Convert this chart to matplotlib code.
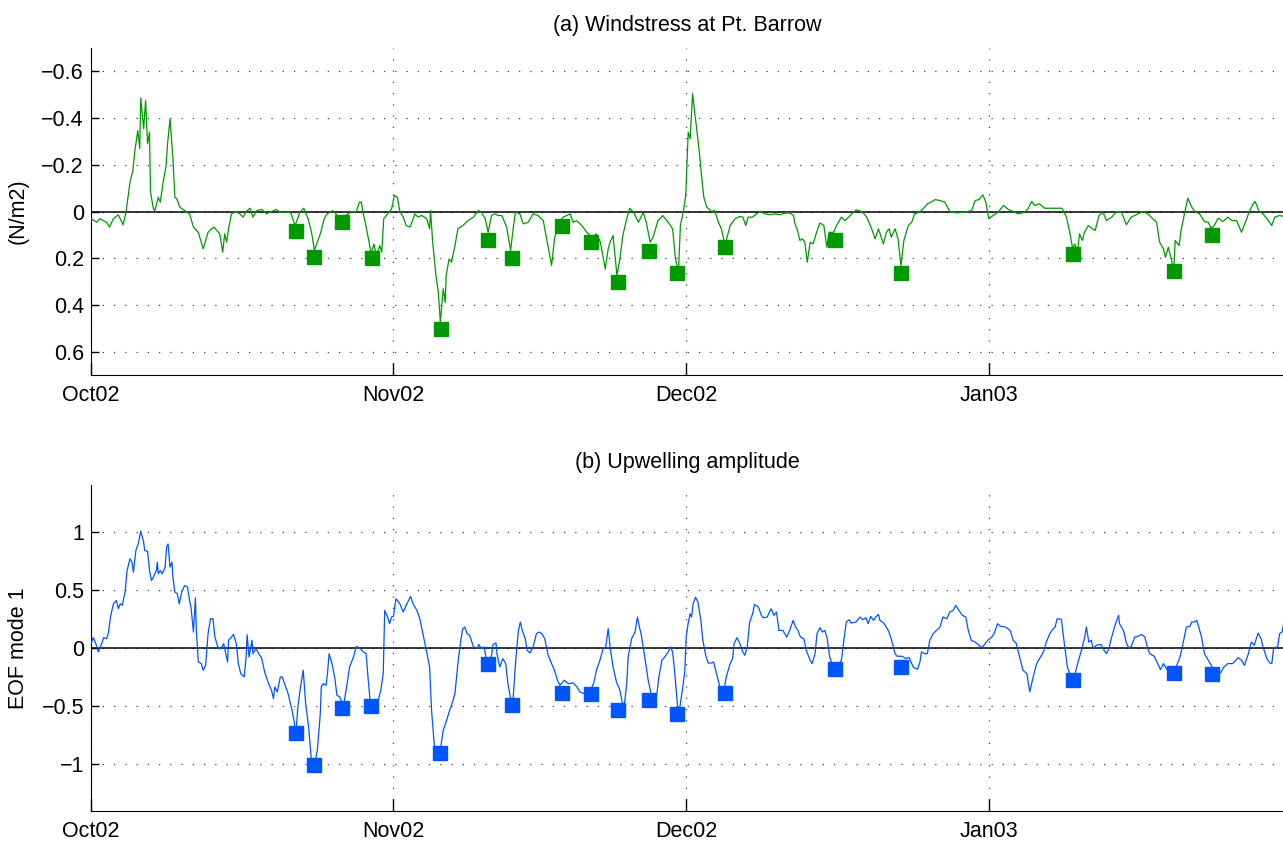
import numpy as np
import pandas as pd
import matplotlib
matplotlib.use("Agg")
import matplotlib.pyplot as plt
import matplotlib.dates as mdates
from matplotlib.ticker import FuncFormatter

plt.rcParams['font.family'] = ['Liberation Sans', 'DejaVu Sans']
plt.rcParams['font.size'] = 15.5

inicio = pd.Timestamp('2002-10-01')

# (a) windstress, days after 1 Oct 2002 and N/m2
wind_dia = [0.0, 0.6, 0.9, 1.6, 1.9, 2.3, 2.8, 3.3, 3.6, 4.0, 4.3, 4.5, 4.8, 5.0, 5.1, 5.4, 5.6, 5.8, 6.0, 6.1,
            6.4, 6.55, 6.9, 7.1, 7.4, 7.7, 7.85, 8.1, 8.4, 8.6, 8.8, 9.1, 9.6, 10.1, 10.5, 11.0, 11.5, 11.8, 12.0,
            12.35, 12.6, 12.9, 13.2, 13.5, 13.7, 13.9, 14.1, 14.4, 14.9, 15.25, 15.6, 15.9, 16.3, 16.6, 17.0,
            17.5, 18.0, 18.5, 19.0, 19.35, 20.0, 20.5, 20.9, 21.1, 21.4, 21.8, 22.25, 22.6, 22.9, 23.2, 23.55,
            23.9, 24.2, 24.8, 25.3, 25.8, 26.35, 26.7, 27.2, 27.5, 27.7, 27.95, 28.2, 28.5, 28.7, 29.0, 29.25,
            29.6, 29.8, 30.0, 30.4, 30.8, 31.1, 31.4, 31.65, 32.0, 32.3, 32.7, 33.2, 33.5, 33.9, 34.4, 34.7,
            34.8, 35.0, 35.35, 35.6, 35.8, 36.1, 36.3, 36.4, 36.7, 36.95, 37.3, 37.6, 38.1, 38.65, 39.2, 39.7,
            40.0, 40.4, 40.7, 41.05, 41.4, 41.7, 42.1, 42.6, 43.0, 43.3, 43.5, 43.95, 44.3, 44.8, 45.3, 45.8,
            46.35, 46.7, 47.2, 47.5, 47.9, 48.4, 49.1, 49.4, 49.75, 50.3, 50.8, 51.3, 51.8, 52.2, 52.7, 53.0,
            53.2, 53.5, 53.9, 54.2, 54.5, 54.9, 55.2, 55.6, 56.1, 56.6, 56.9, 57.3, 57.6, 58.1, 58.6, 59.15,
            59.6, 59.9, 60.2, 60.4, 60.7, 60.95, 61.2, 61.4, 61.65, 61.9, 62.05, 62.3, 62.6, 62.8, 63.1, 63.6,
            63.9, 64.3, 64.6, 64.9, 65.1, 65.5, 66.0, 66.5, 66.8, 67.1, 67.35, 67.8, 68.2, 68.55, 69.05, 69.6,
            70.1, 70.6, 71.1, 71.6, 72.0, 72.1, 72.4, 72.65, 72.9, 73.15, 73.4, 73.7, 74.0, 74.35, 74.7, 75.1,
            75.4, 75.65, 76.1, 76.4, 76.9, 77.25, 77.8, 78.4, 79.0, 79.5, 80.0, 80.35, 80.7, 81.2, 81.5, 81.8,
            82.0, 82.4, 82.7, 83.0, 83.3, 83.75, 84.1, 84.4, 84.9, 85.45, 85.7, 86.1, 86.5, 87.0, 87.5, 88.0,
            88.7, 89.55, 90.25, 90.6, 91.0, 91.4, 91.7, 92.0, 92.45, 92.96, 93.5, 94.0, 94.5, 95.0, 95.7, 96.0,
            96.4, 96.7, 97.2, 97.7, 98.4, 99.1, 99.5, 99.96, 100.3, 100.6, 100.8, 101.1, 101.3, 101.6, 101.8,
            102.2, 102.6, 102.9, 103.3, 103.7, 104.06, 104.6, 105.1, 105.6, 106.1, 106.6, 107.3, 107.8, 108.3,
            108.8, 109.2, 109.5, 109.9, 110.1, 110.4, 110.7, 110.96, 111.1, 111.5, 111.7, 112.1, 112.4, 112.8,
            113.1, 113.6, 114.1, 114.5, 114.8, 115.2, 115.5, 116.0, 116.5, 116.9, 117.4, 117.9, 118.3, 118.7,
            119.1, 119.3, 119.7, 120.1, 120.5, 121.0, 121.3, 121.8, 122.1]
wind_val = [0.03, 0.046, 0.031, 0.046, 0.067, 0.031, 0.014, 0.057, 0.0, -0.126, -0.176, -0.26, -0.347, -0.27,
            -0.486, -0.354, -0.476, -0.29, -0.34, -0.083, -0.011, -0.004, -0.061, -0.04, -0.126, -0.197, -0.29,
            -0.397, -0.226, -0.061, -0.054, -0.019, -0.004, 0.01, 0.067, 0.089, 0.16, 0.117, 0.089, 0.074, 0.067,
            0.081, 0.096, 0.174, 0.096, 0.131, 0.074, 0.01, 0.0, 0.01, 0.024, 0.0, -0.014, 0.024, -0.004, -0.009,
            0.01, 0.0, -0.009, 0.003, 0.003, 0.006, 0.06, 0.04, 0.003, -0.014, 0.031, 0.089, 0.167, 0.131, 0.089,
            0.031, 0.01, -0.004, 0.02, 0.024, 0.01, 0.0, 0.0, -0.04, -0.04, 0.017, 0.067, 0.131, 0.181, 0.139,
            0.189, 0.146, 0.174, 0.031, 0.01, -0.011, -0.069, -0.061, 0.0, 0.024, 0.06, 0.067, 0.01, 0.024, 0.017,
            0.031, 0.074, -0.004, 0.124, 0.274, 0.346, 0.474, 0.331, 0.389, 0.274, 0.203, 0.217, 0.146, 0.074,
            0.06, 0.039, 0.024, -0.004, 0.003, 0.031, 0.089, 0.017, 0.01, 0.017, 0.017, 0.067, 0.167, 0.06, 0.003,
            0.01, 0.053, 0.046, 0.01, 0.017, 0.039, 0.117, 0.231, 0.117, 0.046, 0.024, 0.01, 0.046, 0.039, 0.06,
            0.089, 0.11, 0.096, 0.131, 0.246, 0.16, 0.131, 0.103, 0.274, 0.203, 0.103, 0.031, -0.014, 0.003,
            0.046, 0.003, 0.046, 0.131, 0.11, 0.039, 0.017, 0.046, 0.074, 0.203, 0.26, 0.06, 0.0, -0.069, -0.34,
            -0.311, -0.504, -0.411, -0.361, -0.269, -0.14, -0.061, -0.019, 0.0, -0.004, 0.046, 0.074, 0.131,
            0.124, 0.06, 0.031, 0.021, 0.024, 0.06, 0.024, 0.024, 0.01, 0.0, 0.01, 0.014, 0.01, 0.014, 0.007,
            0.006, 0.017, 0.046, 0.081, 0.124, 0.117, 0.131, 0.217, 0.131, 0.139, 0.089, 0.049, 0.06, 0.153,
            0.089, 0.089, 0.06, 0.024, 0.039, 0.017, -0.007, 0.0, 0.024, 0.074, 0.117, 0.074, 0.139, 0.089,
            0.074, 0.11, 0.074, 0.117, 0.231, 0.124, 0.06, 0.046, 0.01, 0.003, -0.019, -0.033, -0.04, -0.051,
            -0.047, -0.04, 0.0, 0.006, 0.003, -0.004, -0.047, -0.051, -0.071, -0.04, 0.031, 0.017, 0.003, -0.026,
            -0.009, 0.0, 0.01, 0.003, -0.011, -0.043, -0.026, -0.033, -0.014, -0.014, -0.014, -0.014, 0.024,
            0.089, 0.16, 0.139, 0.167, 0.096, 0.124, 0.089, 0.06, 0.074, 0.081, 0.017, 0.003, 0.039, 0.024, 0.0,
            0.003, 0.057, 0.024, 0.01, 0.0, 0.01, 0.031, 0.046, 0.131, 0.16, 0.196, 0.153, 0.203, 0.253, 0.124,
            0.146, 0.081, 0.0, -0.057, -0.019, 0.0, 0.01, 0.043, 0.046, 0.074, 0.053, 0.029, 0.043, 0.024, 0.039,
            0.039, 0.089, 0.046, 0.0, -0.033, -0.043, 0.0, 0.01, 0.031, 0.06, 0.024, 0.017, 0.02]

wind_evento_dia = [21.0, 22.85, 25.75, 28.75, 35.86, 40.7, 43.1, 48.3, 51.2, 53.97, 57.2, 60.07, 65.0,
                   76.2, 83.0, 100.6, 111.0, 114.86]
wind_evento_val = [0.084, 0.193, 0.043, 0.2, 0.503, 0.121, 0.199, 0.063, 0.131, 0.3, 0.17, 0.263, 0.154,
                   0.124, 0.264, 0.184, 0.253, 0.099]

# (b) upwelling amplitude, EOF mode 1
eof_dia = [0.0, 0.24, 0.5, 0.75, 1.1, 1.3, 1.6, 1.8, 2.0, 2.3, 2.6, 2.8, 3.0, 3.2, 3.5, 3.7, 4.0, 4.2, 4.35,
           4.6, 4.85, 5.1, 5.4, 5.5, 5.8, 6.0, 6.2, 6.4, 6.7, 6.8, 6.9, 7.1, 7.3, 7.6, 7.75, 7.9, 8.1, 8.3, 8.4,
           8.6, 8.85, 9.05, 9.3, 9.6, 9.9, 10.1, 10.25, 10.5, 10.7, 10.8, 11.0, 11.3, 11.5, 11.75, 12.0, 12.25,
           12.5, 12.7, 13.05, 13.3, 13.6, 13.7, 14.0, 14.1, 14.4, 14.6, 14.9, 15.1, 15.35, 15.7, 15.9, 16.0,
           16.2, 16.5, 16.6, 16.9, 17.1, 17.5, 17.8, 18.2, 18.5, 18.7, 18.85, 19.1, 19.4, 19.6, 19.9, 20.2,
           20.6, 20.8, 21.0, 21.2, 21.5, 21.75, 22.0, 22.3, 22.6, 22.9, 23.2, 23.5, 23.6, 23.8, 24.1, 24.25,
           24.4, 24.7, 25.0, 25.2, 25.5, 25.85, 26.2, 26.5, 26.9, 27.2, 27.6, 27.9, 28.2, 28.4, 28.6, 29.1,
           29.4, 29.7, 29.95, 30.1, 30.4, 30.6, 30.8, 31.0, 31.25, 31.65, 32.0, 32.3, 32.75, 33.0, 33.4, 33.7,
           34.05, 34.4, 34.7, 34.9, 35.2, 35.5, 35.75, 36.1, 36.4, 36.7, 36.95, 37.3, 37.6, 37.9, 38.1, 38.3,
           38.55, 38.8, 39.2, 39.6, 39.75, 40.0, 40.3, 40.5, 40.7, 41.05, 41.2, 41.5, 41.6, 41.9, 42.2, 42.5,
           42.75, 43.0, 43.25, 43.5, 43.8, 44.0, 44.2, 44.5, 44.7, 45.0, 45.3, 45.65, 45.9, 46.2, 46.5, 46.85,
           47.2, 47.5, 47.8, 48.05, 48.5, 48.9, 49.4, 49.8, 50.1, 50.5, 51.1, 51.5, 51.8, 52.15, 52.5, 52.75,
           53.0, 53.2, 53.5, 53.85, 54.2, 54.4, 54.6, 54.9, 55.05, 55.4, 55.75, 56.0, 56.2, 56.4, 56.8, 57.1,
           57.4, 57.8, 57.95, 58.2, 58.5, 58.8, 59.15, 59.4, 59.6, 59.8, 60.1, 60.3, 60.6, 60.85, 61.0, 61.2,
           61.4, 61.55, 61.7, 61.95, 62.2, 62.5, 62.7, 63.0, 63.25, 63.6, 63.8, 64.1, 64.45, 64.8, 65.1, 65.5,
           65.75, 65.9, 66.2, 66.5, 66.8, 67.0, 67.25, 67.5, 67.8, 68.0, 68.4, 68.7, 68.9, 69.3, 69.6, 69.7,
           69.98, 70.25, 70.5, 70.9, 71.3, 71.6, 71.95, 72.2, 72.45, 72.7, 73.05, 73.3, 73.7, 73.9, 74.2, 74.4,
           74.7, 74.96, 75.2, 75.45, 75.7, 76.05, 76.4, 76.9, 77.15, 77.4, 77.7, 77.9, 78.4, 78.8, 79.1, 79.4,
           79.65, 79.9, 80.2, 80.4, 80.7, 80.85, 81.25, 81.7, 82.0, 82.4, 82.6, 83.1, 83.5, 83.85, 84.25, 84.7,
           84.95, 85.1, 85.45, 85.7, 85.96, 86.3, 86.65, 87.0, 87.3, 87.7, 88.0, 88.35, 88.6, 88.9, 89.3, 89.65,
           89.9, 90.2, 90.6, 90.9, 91.25, 91.5, 91.9, 92.3, 92.55, 92.9, 93.2, 93.7, 94.2, 94.5, 94.8, 95.2,
           95.5, 95.9, 96.2, 96.55, 96.9, 97.2, 97.6, 97.9, 98.25, 98.6, 98.8, 99.0, 99.45, 99.7, 100.06,
           100.4, 100.8, 101.2, 101.5, 101.8, 102.0, 102.25, 102.5, 102.7, 103.0, 103.5, 103.7, 104.06, 104.3,
           104.6, 104.9, 105.3, 105.4, 105.8, 106.1, 106.35, 106.6, 106.96, 107.3, 107.65, 107.99, 108.3,
           108.5, 108.95, 109.3, 109.6, 109.9, 110.2, 110.55, 111.2, 111.6, 111.9, 112.25, 112.6, 112.8, 113.1,
           113.3, 113.5, 113.8, 114.1, 114.5, 114.9, 115.3, 115.8, 116.1, 116.5, 117.0, 117.55, 117.9, 118.2,
           118.6, 118.9, 119.2, 119.6, 119.9, 120.1, 120.5, 120.8, 121.0, 121.2, 121.6, 121.8, 122.05, 122.2]
eof_val = [0.037, 0.089, 0.037, -0.034, 0.037, 0.089, 0.08, 0.137, 0.266, 0.38, 0.409, 0.337, 0.38, 0.366,
           0.48, 0.666, 0.766, 0.737, 0.651, 0.837, 0.894, 1.003, 0.909, 0.837, 0.831, 0.666, 0.58, 0.609,
           0.666, 0.737, 0.637, 0.666, 0.637, 0.694, 0.866, 0.894, 0.694, 0.737, 0.609, 0.48, 0.466, 0.38, 0.48,
           0.537, 0.523, 0.409, 0.351, 0.137, 0.431, 0.151, -0.12, -0.134, -0.191, -0.149, 0.123, 0.251, 0.251,
           0.094, -0.006, -0.006, 0.037, -0.006, -0.12, 0.066, 0.094, 0.117, 0.037, -0.134, -0.22, -0.249,
           -0.077, 0.114, -0.077, 0.066, -0.049, -0.006, -0.034, -0.091, -0.206, -0.306, -0.363, -0.434, -0.334,
           -0.377, -0.249, -0.249, -0.32, -0.391, -0.534, -0.62, -0.734, -0.506, -0.32, -0.191, -0.477, -0.677,
           -0.977, -1.0, -0.877, -0.563, -0.334, -0.306, -0.32, -0.206, -0.049, -0.134, -0.263, -0.406, -0.42,
           -0.506, -0.334, -0.163, -0.077, 0.014, -0.006, -0.034, -0.049, -0.263, -0.449, -0.491, -0.463,
           -0.363, -0.22, 0.323, 0.266, 0.209, 0.266, 0.271, 0.423, 0.38, 0.309, 0.366, 0.443, 0.38, 0.323,
           0.251, 0.109, -0.034, -0.163, -0.534, -0.849, -0.92, -0.906, -0.706, -0.634, -0.549, -0.491, -0.391,
           -0.134, 0.066, 0.166, 0.18, 0.123, 0.109, 0.009, 0.0, 0.031, -0.006, 0.009, -0.091, -0.13, -0.063,
           0.031, 0.043, -0.049, -0.163, -0.091, -0.134, -0.32, -0.434, -0.449, -0.134, 0.151, 0.223, 0.151,
           0.08, -0.02, -0.043, 0.009, 0.123, 0.137, 0.123, 0.08, -0.063, -0.134, -0.191, -0.277, -0.32, -0.277,
           -0.306, -0.3, -0.334, -0.377, -0.391, -0.377, -0.306, -0.191, -0.106, 0.0, 0.009, 0.166, 0.009,
           -0.163, -0.291, -0.363, -0.449, -0.534, -0.306, -0.077, 0.08, 0.137, 0.266, 0.18, 0.109, -0.106,
           -0.277, -0.391, -0.406, -0.42, -0.249, -0.106, -0.077, -0.034, 0.009, -0.034, -0.191, -0.491, -0.534,
           -0.363, -0.2, 0.1, 0.215, 0.294, 0.266, 0.38, 0.437, 0.394, 0.237, 0.066, -0.063, -0.129, -0.129,
           -0.12, -0.22, -0.334, -0.391, -0.249, -0.134, -0.091, 0.037, 0.089, 0.037, -0.034, -0.063, 0.009,
           0.223, 0.294, 0.374, 0.351, 0.28, 0.26, 0.266, 0.323, 0.337, 0.28, 0.309, 0.151, 0.151, 0.094, 0.151,
           0.237, 0.18, 0.151, 0.094, 0.08, -0.02, -0.106, -0.134, -0.049, 0.123, 0.174, 0.137, 0.151, 0.08,
           -0.077, -0.163, -0.163, -0.106, 0.066, 0.223, 0.243, 0.214, 0.223, 0.266, 0.243, 0.26, 0.209, 0.271,
           0.237, 0.266, 0.289, 0.237, 0.214, 0.151, 0.08, -0.049, -0.071, -0.071, -0.091, -0.083, -0.163,
           -0.183, -0.12, -0.034, -0.049, -0.049, 0.066, 0.123, 0.151, 0.18, 0.266, 0.251, 0.309, 0.323, 0.366,
           0.329, 0.28, 0.266, 0.151, 0.066, 0.051, 0.031, 0.003, 0.023, 0.066, 0.094, 0.123, 0.209, 0.186,
           0.18, 0.151, 0.066, 0.043, -0.091, -0.191, -0.22, -0.377, -0.249, -0.134, -0.091, -0.034, 0.051,
           0.123, 0.166, 0.18, 0.251, 0.246, 0.066, -0.163, -0.249, -0.234, -0.106, -0.02, 0.08, 0.18, 0.051,
           0.066, -0.006, 0.023, 0.031, -0.006, -0.049, -0.006, 0.094, 0.186, 0.28, 0.209, 0.151, 0.043, 0.0,
           0.014, 0.094, 0.1, 0.117, 0.094, -0.006, -0.049, -0.071, -0.134, -0.186, -0.134, -0.177, -0.22,
           -0.163, -0.077, 0.037, 0.18, 0.186, 0.223, 0.223, 0.237, 0.186, 0.094, -0.049, -0.106, -0.163,
           -0.249, -0.206, -0.163, -0.134, -0.134, -0.083, -0.106, -0.149, -0.049, 0.051, 0.023, 0.129, 0.08,
           0.009, -0.091, -0.129, -0.134, 0.003, 0.009, 0.123, 0.137, 0.203]

eof_evento_dia = [20.97, 22.85, 25.75, 28.7, 35.8, 40.7, 43.1, 48.3, 51.2, 54.0, 57.2, 60.1, 65.0, 76.2,
                  83.0, 100.6, 111.0, 114.85]
eof_evento_val = [-0.726, -1.006, -0.514, -0.494, -0.9, -0.134, -0.486, -0.386, -0.391, -0.534, -0.449,
                  -0.571, -0.386, -0.177, -0.163, -0.277, -0.214, -0.22]


def fechas(dias):
    return inicio + pd.to_timedelta(np.array(dias), unit='D')


def etiqueta(v, pos):
    return '{:g}'.format(round(v, 2)).replace('-', '\u2212')


def panel(ax, dias, vals, ev_dias, ev_vals, color, titulo, ylabel, ticks, lim):
    ax.axhline(0, color='black', lw=1.1, zorder=2)
    ax.plot(fechas(dias), vals, color=color, lw=0.9, zorder=3)
    ax.plot(fechas(ev_dias), ev_vals, 's', color=color, ms=10, mec=color, zorder=4)
    ax.set_xlim(inicio, inicio + pd.Timedelta(days=122.15))
    ax.set_ylim(*lim)
    ax.set_yticks(ticks)
    ax.yaxis.set_major_formatter(FuncFormatter(etiqueta))
    ax.xaxis.set_major_locator(mdates.MonthLocator())
    ax.xaxis.set_major_formatter(mdates.DateFormatter('%b%y'))
    ax.grid(True, color='0.25', lw=0.9, linestyle=(0, (1, 8)))
    ax.tick_params(axis='y', direction='in', length=6, width=1, pad=5)
    ax.tick_params(axis='x', direction='in', length=9, width=1, pad=7)
    for s in ('top', 'right'):
        ax.spines[s].set_visible(False)
    ax.set_title(titulo, fontsize=15.5, pad=12)
    ax.set_ylabel(ylabel, labelpad=9)


fig = plt.figure(figsize=(12.83, 8.42), dpi=100)
ax1 = fig.add_axes([0.0709, 0.5546, 0.9291, 0.3884])
ax2 = fig.add_axes([0.0709, 0.0368, 0.9291, 0.3872])

panel(ax1, wind_dia, wind_val, wind_evento_dia, wind_evento_val, '#009900',
      '(a) Windstress at Pt. Barrow', '(N/m2)', [-0.6, -0.4, -0.2, 0, 0.2, 0.4, 0.6], (0.7, -0.7))
panel(ax2, eof_dia, eof_val, eof_evento_dia, eof_evento_val, '#0055ff',
      '(b) Upwelling amplitude', 'EOF mode 1', [-1, -0.5, 0, 0.5, 1], (-1.4, 1.4))

fig.savefig('out.png', dpi=100)
